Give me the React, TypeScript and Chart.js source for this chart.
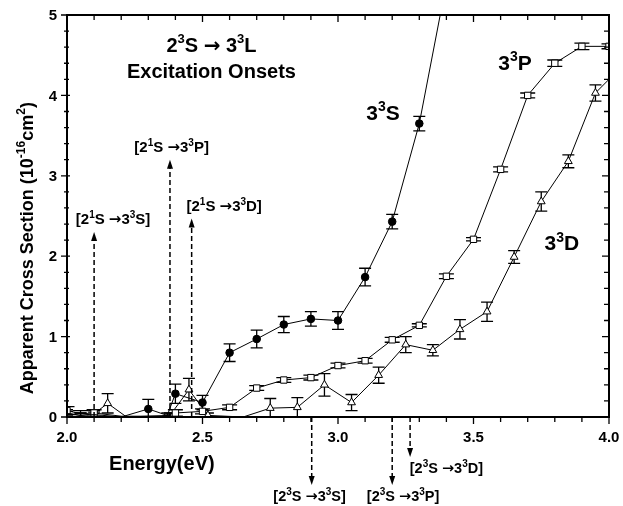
import React, { useEffect, useRef } from "react";
import { Chart, registerables } from "chart.js";

Chart.register(...registerables);

// ---- Data (Energy in eV, apparent cross section in 1e-16 cm^2) ----
const s3Energy = [2.0, 2.05, 2.1, 2.2, 2.3, 2.37, 2.4, 2.5, 2.6, 2.7, 2.8, 2.9, 3.0, 3.1, 3.2, 3.3, 3.4];
const s3Value = [0.04, 0.02, 0.03, 0.0, 0.1, 0.02, 0.29, 0.18, 0.8, 0.97, 1.15, 1.22, 1.2, 1.74, 2.43, 3.65, 5.4];
const s3Error = [0.03, 0.03, 0.03, 0, 0.12, 0.03, 0.12, 0.09, 0.11, 0.11, 0.1, 0.09, 0.11, 0.11, 0.09, 0.09, 0];
const s3Marker = [0, 0, 0, 0, 1, 0, 1, 1, 1, 1, 1, 1, 1, 1, 1, 1, 0];

const p3Energy = [2.0, 2.05, 2.1, 2.2, 2.35, 2.4, 2.5, 2.6, 2.7, 2.8, 2.9, 3.0, 3.1, 3.2, 3.3, 3.4, 3.5, 3.6, 3.7, 3.8, 3.9, 4.0];
const p3Value = [0.08, 0.04, 0.05, 0.01, 0.01, 0.05, 0.07, 0.12, 0.36, 0.46, 0.49, 0.64, 0.7, 0.96, 1.14, 1.75, 2.21, 3.08, 4.0, 4.4, 4.61, 4.61];
const p3Error = [0.05, 0.04, 0.04, 0, 0, 0.04, 0.03, 0.03, 0.03, 0.03, 0.03, 0.03, 0.03, 0.03, 0.02, 0.03, 0.02, 0.03, 0.03, 0.04, 0.04, 0.03];
const p3Marker = [1, 0, 1, 0, 0, 1, 1, 1, 1, 1, 1, 1, 1, 1, 1, 1, 1, 1, 1, 1, 1, 1];

const d3Energy = [2.0, 2.05, 2.1, 2.15, 2.22, 2.38, 2.45, 2.52, 2.65, 2.75, 2.85, 2.95, 3.05, 3.15, 3.25, 3.35, 3.45, 3.55, 3.65, 3.75, 3.85, 3.95, 4.0];
const d3Value = [0.05, 0.02, 0.04, 0.17, 0.0, 0.02, 0.34, 0.02, 0.0, 0.11, 0.12, 0.4, 0.18, 0.52, 0.9, 0.83, 1.09, 1.31, 1.99, 2.68, 3.18, 4.03, 4.2];
const d3Error = [0.04, 0.03, 0.04, 0.12, 0, 0.03, 0.14, 0.03, 0, 0.12, 0.12, 0.14, 0.1, 0.1, 0.1, 0.07, 0.12, 0.12, 0.08, 0.12, 0.08, 0.1, 0];
const d3Marker = [0, 0, 0, 1, 0, 0, 1, 1, 0, 1, 1, 1, 1, 1, 1, 1, 1, 1, 1, 1, 1, 1, 0];

const xTicks = [2.0, 2.5, 3.0, 3.5, 4.0];
const yTicks = [0, 1, 2, 3, 4, 5];

// Onset arrows: energy, arrow top (value), label
const upArrowEnergy = [2.1, 2.38, 2.46];
const upArrowTop = [2.3, 3.2, 2.47];
const upLabelEnergy = [2.17, 2.386, 2.58];
const upLabelValue = [2.46, 3.36, 2.62];
const upLabelFinal = ["S", "P", "D"];

const downArrowEnergy = [2.903, 3.2, 3.266];
const downArrowDepth = [68, 68, 40];
const downLabelEnergy = [2.895, 3.24, 3.4];
const downLabelDepth = [84, 84, 56];
const downLabelFinal = ["S", "P", "D"];

const FONT = '"Liberation Sans", Arial, Helvetica, sans-serif';
const ARROW_FONT = '"DejaVu Sans", "Liberation Sans", sans-serif';

// [text, superscript, arrow-font]
type Part = [string, boolean, boolean?];

function partFont(p: Part, size: number) {
  const sup = Math.round(size * 0.66);
  return `bold ${p[1] ? sup : size}px ${p[2] ? ARROW_FONT : FONT}`;
}

function drawRich(ctx: CanvasRenderingContext2D, parts: Part[], x: number, y: number, size: number) {
  let total = 0;
  const widths: number[] = [];
  for (const p of parts) {
    ctx.font = partFont(p, size);
    const w = ctx.measureText(p[0]).width;
    widths.push(w);
    total += w;
  }
  let cx = x - total / 2;
  ctx.textAlign = "left";
  ctx.textBaseline = "alphabetic";
  parts.forEach((p, i) => {
    ctx.font = partFont(p, size);
    ctx.fillText(p[0], cx, p[1] ? y - size * 0.42 : y);
    cx += widths[i];
  });
}

function transition(lower: string, upperFinal: string): Part[] {
  return [["[2", false], [lower, true], ["S ", false], ["\u2192", false, true], ["3", false], ["3", true], [upperFinal + "]", false]];
}

function arrowHead(ctx: CanvasRenderingContext2D, x: number, y: number, dir: number) {
  ctx.beginPath();
  ctx.moveTo(x, y);
  ctx.lineTo(x - 3, y - dir * 9);
  ctx.lineTo(x + 3, y - dir * 9);
  ctx.closePath();
  ctx.fill();
}

const errorBarPlugin = {
  id: "errorBars",
  beforeDatasetsDraw(chart: any) {
    const { ctx, chartArea: a, scales } = chart;
    const errs = [s3Error, p3Error, d3Error];
    const caps = [6, 7.5, 6];
    ctx.save();
    ctx.beginPath();
    ctx.rect(a.left, a.top, a.right - a.left, a.bottom - a.top);
    ctx.clip();
    ctx.strokeStyle = "#000";
    ctx.lineWidth = 1.3;
    chart.data.datasets.forEach((ds: any, di: number) => {
      ds.data.forEach((pt: any, i: number) => {
        const e = errs[di][i];
        if (!e) return;
        const px = scales.x.getPixelForValue(pt.x);
        const y1 = scales.y.getPixelForValue(pt.y + e);
        const y2 = scales.y.getPixelForValue(Math.max(0, pt.y - e));
        const c = caps[di];
        ctx.beginPath();
        ctx.moveTo(px, y1);
        ctx.lineTo(px, y2);
        ctx.moveTo(px - c, y1);
        ctx.lineTo(px + c, y1);
        ctx.moveTo(px - c, y2);
        ctx.lineTo(px + c, y2);
        ctx.stroke();
      });
    });
    ctx.restore();
  },
};

const decorPlugin = {
  id: "decor",
  afterDraw(chart: any) {
    const { ctx, chartArea: a, scales } = chart;
    const xs = scales.x;
    const ys = scales.y;
    ctx.save();
    ctx.strokeStyle = "#000";
    ctx.fillStyle = "#000";
    // frame
    ctx.lineWidth = 2;
    ctx.strokeRect(a.left, a.top, a.right - a.left, a.bottom - a.top);
    // ticks
    ctx.lineWidth = 1.3;
    ctx.beginPath();
    for (let i = 0; i <= 20; i++) {
      const px = xs.getPixelForValue(2 + i * 0.1);
      const L = i % 5 === 0 ? 7 : 5;
      ctx.moveTo(px, a.bottom);
      ctx.lineTo(px, a.bottom + L);
      ctx.moveTo(px, a.top);
      ctx.lineTo(px, a.top + L);
    }
    for (let i = 0; i <= 25; i++) {
      const py = ys.getPixelForValue(i * 0.2);
      const major = i % 5 === 0;
      ctx.moveTo(a.left - (major ? 6 : 3), py);
      ctx.lineTo(a.left + (major ? 3 : 2), py);
      ctx.moveTo(a.right - (major ? 7 : 5), py);
      ctx.lineTo(a.right, py);
    }
    ctx.stroke();

    // tick labels
    ctx.font = `bold 15px ${FONT}`;
    ctx.textAlign = "center";
    ctx.textBaseline = "middle";
    xTicks.forEach((v) => ctx.fillText(v.toFixed(1), xs.getPixelForValue(v), a.bottom + 21));
    ctx.textAlign = "right";
    yTicks.forEach((v) => ctx.fillText(String(v), a.left - 10, ys.getPixelForValue(v) + 1));

    // upward onset arrows
    ctx.lineWidth = 1.5;
    upArrowEnergy.forEach((e, i) => {
      const px = xs.getPixelForValue(e);
      const top = ys.getPixelForValue(upArrowTop[i]);
      ctx.setLineDash([5, 3]);
      ctx.beginPath();
      ctx.moveTo(px, a.bottom);
      ctx.lineTo(px, top + 8);
      ctx.stroke();
      ctx.setLineDash([]);
      arrowHead(ctx, px, top, -1);
      drawRich(ctx, transition("1", upLabelFinal[i]), xs.getPixelForValue(upLabelEnergy[i]),
        ys.getPixelForValue(upLabelValue[i]) + 5, 15);
    });

    // downward arrows below axis
    downArrowEnergy.forEach((e, i) => {
      const px = xs.getPixelForValue(e);
      const end = a.bottom + downArrowDepth[i];
      ctx.setLineDash([5, 3]);
      ctx.beginPath();
      ctx.moveTo(px, a.bottom);
      ctx.lineTo(px, end - 8);
      ctx.stroke();
      ctx.setLineDash([]);
      arrowHead(ctx, px, end, 1);
      drawRich(ctx, transition("3", downLabelFinal[i]), xs.getPixelForValue(downLabelEnergy[i]),
        a.bottom + downLabelDepth[i], 14.5);
    });

    // titles inside plot
    drawRich(ctx, [["2", false], ["3", true], ["S ", false], ["\u2192", false, true], [" 3", false], ["3", true], ["L", false]],
      xs.getPixelForValue(2.533), ys.getPixelForValue(4.63) + 7, 20);
    drawRich(ctx, [["Excitation Onsets", false]], xs.getPixelForValue(2.533), ys.getPixelForValue(4.3) + 7, 20);

    // series labels
    drawRich(ctx, [["3", false], ["3", true], ["S", false]], xs.getPixelForValue(3.166), ys.getPixelForValue(3.78) + 7, 21);
    drawRich(ctx, [["3", false], ["3", true], ["P", false]], xs.getPixelForValue(3.653), ys.getPixelForValue(4.4) + 7, 21);
    drawRich(ctx, [["3", false], ["3", true], ["D", false]], xs.getPixelForValue(3.826), ys.getPixelForValue(2.16) + 7, 21);

    // axis titles
    drawRich(ctx, [["Energy(eV)", false]], xs.getPixelForValue(2.35), a.bottom + 53, 20);
    ctx.save();
    ctx.translate(27, ys.getPixelForValue(2.1));
    ctx.rotate(-Math.PI / 2);
    drawRich(ctx, [["Apparent Cross Section (10", false], ["-16", true], ["cm", false], ["2", true], [")", false]], 0, 6, 18);
    ctx.restore();

    ctx.restore();
  },
};

function toPoints(xs: number[], ys: number[]) {
  return xs.map((x, i) => ({ x, y: ys[i] }));
}

export default function App() {
  const ref = useRef<HTMLCanvasElement | null>(null);
  useEffect(() => {
    if (!ref.current) return;
    const chart = new Chart(ref.current, {
      type: "scatter",
      data: {
        datasets: [
          {
            label: "3^3S",
            data: toPoints(s3Energy, s3Value),
            showLine: true,
            borderColor: "#000",
            borderWidth: 1,
            backgroundColor: "#000",
            pointBackgroundColor: "#000",
            pointBorderColor: "#000",
            pointStyle: "circle",
            pointRadius: s3Marker.map((m) => (m ? 3.8 : 0)),
            pointBorderWidth: 1,
          },
          {
            label: "3^3P",
            data: toPoints(p3Energy, p3Value),
            showLine: true,
            borderColor: "#000",
            borderWidth: 1,
            pointBackgroundColor: "#fff",
            pointBorderColor: "#000",
            pointStyle: "rect",
            pointRadius: p3Marker.map((m) => (m ? 4.5 : 0)),
            pointBorderWidth: 1,
          },
          {
            label: "3^3D",
            data: toPoints(d3Energy, d3Value),
            showLine: true,
            borderColor: "#000",
            borderWidth: 1,
            pointBackgroundColor: "#fff",
            pointBorderColor: "#000",
            pointStyle: "triangle",
            pointRadius: d3Marker.map((m) => (m ? 4.5 : 0)),
            pointBorderWidth: 1,
          },
        ],
      },
      options: {
        animation: false,
        responsive: false,
        devicePixelRatio: 1,
        layout: { padding: { top: 15, right: 14, left: 0, bottom: 0 } },
        plugins: { legend: { display: false }, tooltip: { enabled: false } },
        scales: {
          x: {
            type: "linear",
            min: 2,
            max: 4,
            afterBuildTicks: (s: any) => {
              s.ticks = xTicks.map((v) => ({ value: v }));
            },
            afterFit: (s: any) => {
              s.height = 89;
            },
            grid: { display: false, drawTicks: false },
            border: { display: false },
            ticks: { display: false },
          },
          y: {
            type: "linear",
            min: 0,
            max: 5,
            afterBuildTicks: (s: any) => {
              s.ticks = yTicks.map((v) => ({ value: v }));
            },
            afterFit: (s: any) => {
              s.width = 67;
            },
            grid: { display: false, drawTicks: false },
            border: { display: false },
            ticks: { display: false },
          },
        },
      },
      plugins: [errorBarPlugin, decorPlugin],
    });
    return () => chart.destroy();
  }, []);
  return (
    <div style={{ position: "absolute", left: 0, top: 0, width: 623, height: 506, background: "#fff" }}>
      <canvas ref={ref} width={623} height={506} style={{ width: 623, height: 506, display: "block" }} />
    </div>
  );
}
